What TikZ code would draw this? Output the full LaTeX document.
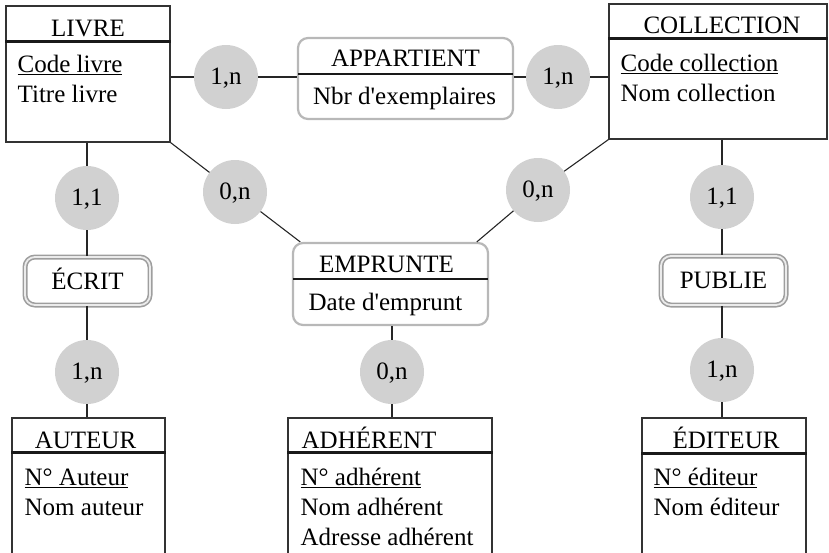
\documentclass[tikz,border=0pt]{standalone}
\usepackage{fontspec}
\setmainfont{Liberation Serif}
\usetikzlibrary{positioning,calc}

\begin{document}
\begin{tikzpicture}[
    x=1pt, y=-1pt,
    font=\fontsize{25}{30}\selectfont,
    entite/.style={draw=black!80,line width=1.1pt,inner sep=0pt},
    assoc/.style={draw=black!28,line width=2.2pt,rounded corners=10pt,fill=white,inner sep=0pt},
    pivot/.style={draw=black!38,line width=1.6pt,double=black!8,double distance=1.8pt,rounded corners=10pt,inner sep=0pt,text height=16.5pt,text depth=0pt},
    card/.style={circle,fill=black!18,minimum size=64pt,inner sep=0pt,text height=14pt,text depth=0pt},
    entete/.style={line width=2.2pt,black!90},
    lien/.style={line width=1.1pt,black!85},
    titre/.style={inner sep=0pt,anchor=base},
    champs/.style={inner sep=0pt,align=left,anchor=base west}
  ]
  \useasboundingbox (0,0) rectangle (829,552);
  \clip (0,0) rectangle (829,552);

  % entites (champs : ancre sur la ligne de base de la derniere ligne)
  \node[entite,minimum width=164pt,minimum height=136pt] (livre) at (88,74) {};
  \node[titre] (livre-t) at ($(livre.north)+(0,31)$) {LIVRE};
  \draw[entete] ($(livre.north west)+(0,36)$) -- ($(livre.north east)+(0,36)$);
  \node[champs] (livre-a) at ($(livre.north west)+(12,97)$) {\underline{Code livre}\\Titre livre};

  \node[entite,minimum width=218pt,minimum height=135pt] (collection) at (718,71.5) {};
  \node[titre] (collection-t) at ($(collection.north)+(4,30)$) {COLLECTION};
  \draw[entete] ($(collection.north west)+(0,35)$) -- ($(collection.north east)+(0,35)$);
  \node[champs] (collection-a) at ($(collection.north west)+(12,98)$) {\underline{Code collection}\\Nom collection};

  \node[entite,minimum width=153pt,minimum height=182pt] (auteur) at (88.5,509) {};
  \node[titre] (auteur-t) at ($(auteur.north)+(-3,31)$) {AUTEUR};
  \draw[entete] ($(auteur.north west)+(0,35)$) -- ($(auteur.north east)+(0,35)$);
  \node[champs] (auteur-a) at ($(auteur.north west)+(13,98)$) {\underline{N° Auteur}\\Nom auteur};

  \node[entite,minimum width=204pt,minimum height=182pt] (adherent) at (390,509) {};
  \node[titre,anchor=base west] (adherent-t) at ($(adherent.north west)+(14,31)$) {ADHÉRENT};
  \draw[entete] ($(adherent.north west)+(0,35)$) -- ($(adherent.north east)+(0,35)$);
  \node[champs] (adherent-a) at ($(adherent.north west)+(13,128)$) {\underline{N° adhérent}\\Nom adhérent\\Adresse adhérent};

  \node[entite,minimum width=164pt,minimum height=182pt] (editeur) at (724,509) {};
  \node[titre] (editeur-t) at ($(editeur.north)+(2,31)$) {ÉDITEUR};
  \draw[entete] ($(editeur.north west)+(0,36)$) -- ($(editeur.north east)+(0,36)$);
  \node[champs] (editeur-a) at ($(editeur.north west)+(12,98)$) {\underline{N° éditeur}\\Nom éditeur};

  % associations
  \node[assoc,minimum width=215pt,minimum height=81pt] (appartient) at (405.5,78.5) {};
  \node[titre] (appartient-t) at ($(appartient.north)+(0,30)$) {APPARTIENT};
  \draw[entete] ($(appartient.north west)+(1.5,37)$) -- ($(appartient.north east)+(-1.5,37)$);
  \node[titre] (appartient-a) at ($(appartient.north)+(-1,68)$) {Nbr d\textquotesingle exemplaires};

  \node[assoc,minimum width=195pt,minimum height=82pt] (emprunte) at (390.5,284) {};
  \node[titre] (emprunte-t) at ($(emprunte.north)+(-4,31)$) {EMPRUNTE};
  \draw[entete] ($(emprunte.north west)+(1.5,37)$) -- ($(emprunte.north east)+(-1.5,37)$);
  \node[titre] (emprunte-a) at ($(emprunte.north)+(-5,69)$) {Date d\textquotesingle emprunt};

  \node[pivot,minimum width=125pt,minimum height=48pt] (ecrit) at (87.5,281) {ÉCRIT};
  \node[pivot,minimum width=125pt,minimum height=49pt] (publie) at (723.5,280.5) {PUBLIE};

  % cardinalites
  \node[card] (c1) at (226,77) {1,n};
  \node[card] (c2) at (558,77) {1,n};
  \node[card] (c3) at (87,198) {1,1};
  \node[card] (c4) at (235,192) {0,n};
  \node[card] (c5) at (538,190) {0,n};
  \node[card] (c6) at (722,197) {1,1};
  \node[card] (c7) at (87,372) {1,n};
  \node[card] (c8) at (392,372) {0,n};
  \node[card] (c9) at (722,370) {1,n};

  % liens
  \draw[lien] (livre.east |- c1) -- (c1) -- (appartient.west |- c1);
  \draw[lien] (appartient.east |- c2) -- (c2) -- (collection.west |- c2);
  \draw[lien] (livre.south -| c3) -- (c3) -- (ecrit.north -| c3);
  \draw[lien] (ecrit.south -| c7) -- (c7) -- (auteur.north -| c7);
  \draw[lien] (collection.south -| c6) -- (c6) -- (publie.north -| c6);
  \draw[lien] (publie.south -| c9) -- (c9) -- (editeur.north -| c9);
  \draw[lien] (livre.south east) -- (c4) -- (emprunte.155);
  \draw[lien] (collection.south west) -- (c5) -- (emprunte.26);
  \draw[lien] (emprunte.south -| c8) -- (c8) -- (adherent.north -| c8);
\end{tikzpicture}
\end{document}
